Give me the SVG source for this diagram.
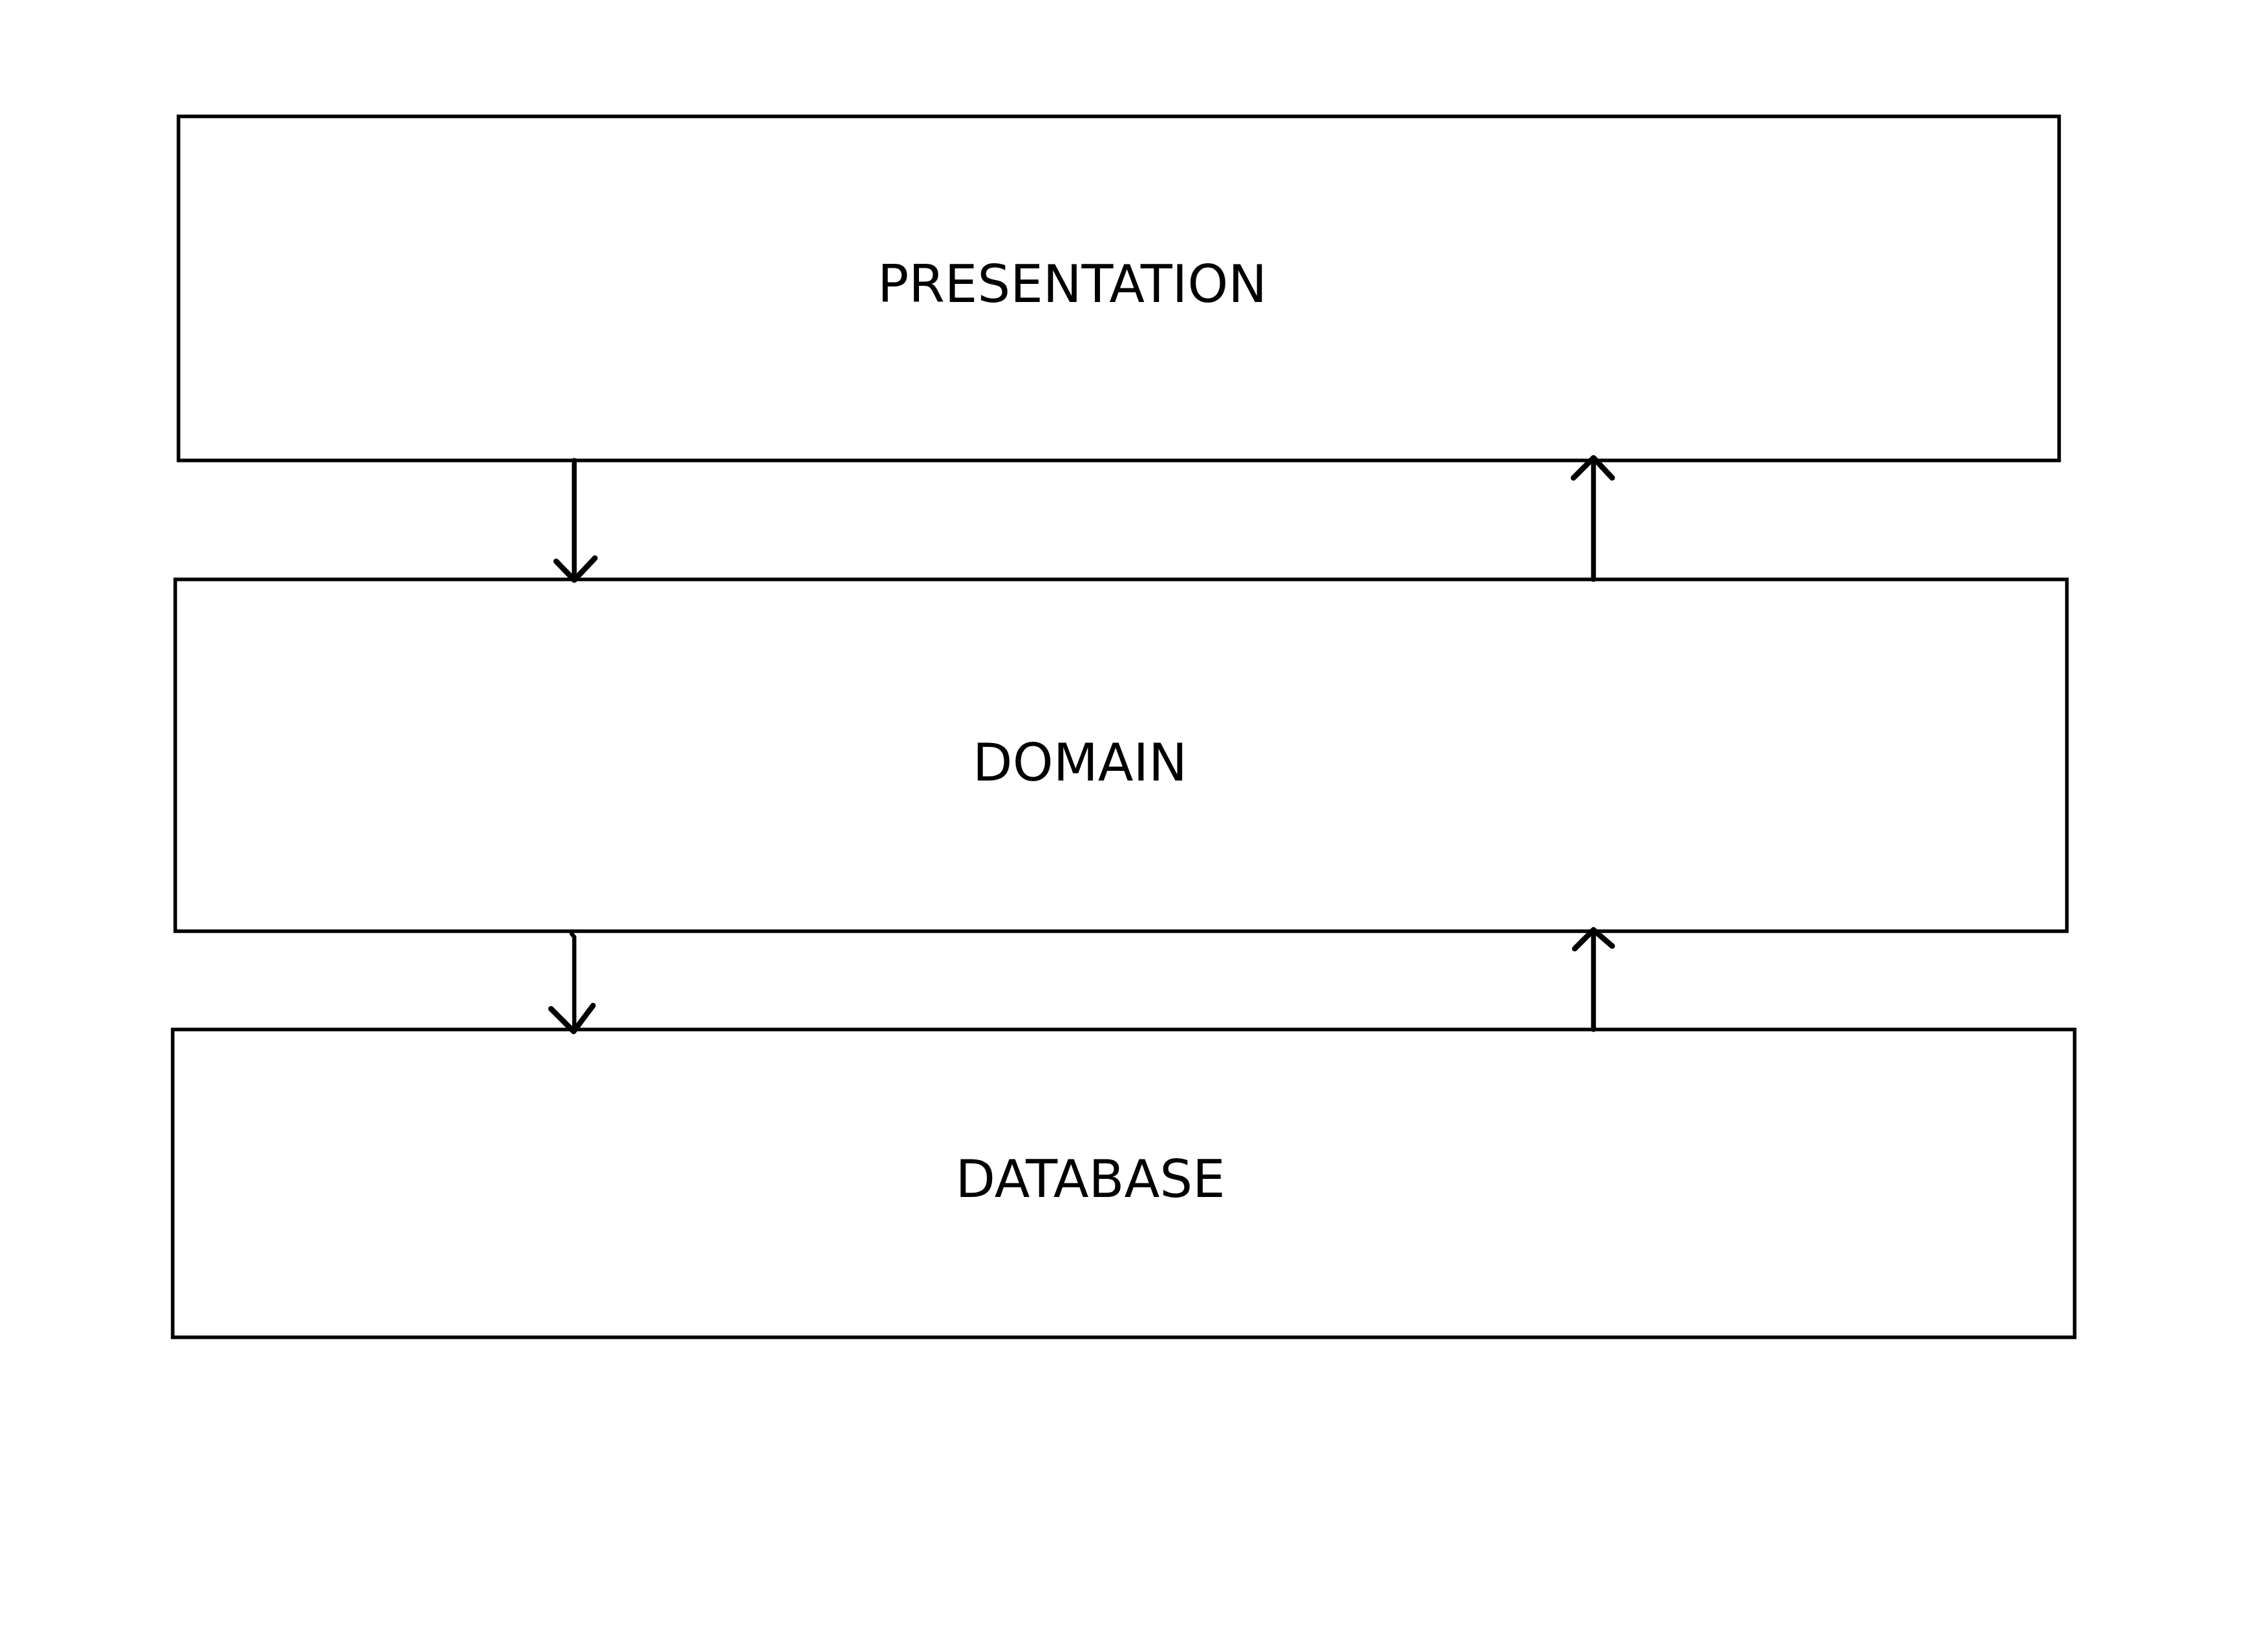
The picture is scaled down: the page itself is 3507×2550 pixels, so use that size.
<svg xmlns="http://www.w3.org/2000/svg" width="3507" height="2550" viewBox="0 0 3507 2550">
<style>
.box{fill:#ffffff;stroke:#000000;stroke-width:5.5}
.lbl{font-family:"DejaVu Sans",sans-serif;font-size:80px;fill:#000000;text-anchor:middle}
.shaft{fill:none;stroke:#000000;stroke-width:7.5;stroke-linecap:round;stroke-linejoin:round}
.head{fill:none;stroke:#000000;stroke-width:8.5;stroke-linecap:round;stroke-linejoin:round}
</style>
<rect x="0" y="0" width="3507" height="2550" fill="#ffffff"/>
<g id="presentation">
<rect class="box" x="276" y="180" width="2908" height="532"/>
<text class="lbl" x="1658" y="467">PRESENTATION</text>
</g>
<g id="domain">
<rect class="box" x="271" y="896" width="2925" height="544"/>
<text class="lbl" x="1670" y="1207">DOMAIN</text>
</g>
<g id="database">
<rect class="box" x="267" y="1592" width="2941" height="476"/>
<text class="lbl" x="1686" y="1851">DATABASE</text>
</g>
<g id="connectors">
<path class="shaft" d="M888,712 L888,895"/>
<path class="head" d="M860,868 L888,897 L920,863"/>
<path class="shaft" d="M2464,896 L2464,710"/>
<path class="head" d="M2433,739 L2464,708 L2493,739"/>
<path class="shaft" style="stroke-width:6.5" d="M884,1444 L888,1449 L888,1593"/>
<path class="head" d="M852,1560 L887,1595 L917,1555"/>
<path class="shaft" d="M2464,1592 L2464,1440"/>
<path class="head" d="M2435,1467 L2464,1438 L2493,1463"/>
</g>
</svg>
